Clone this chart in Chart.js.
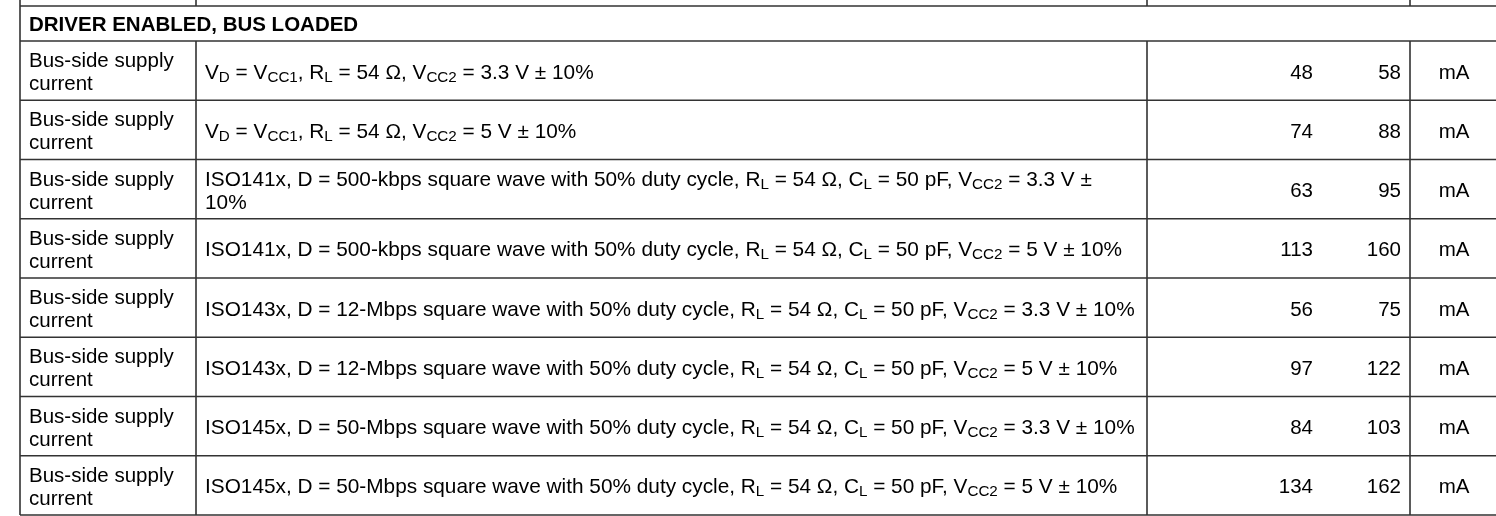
<!DOCTYPE html>
<html>
<head>
<meta charset="utf-8">
<script src="https://cdn.jsdelivr.net/npm/chart.js@4/dist/chart.umd.min.js"></script>
<style>
  html, body { margin: 0; padding: 0; background: #fff; }
  #wrap { width: 1496px; height: 516px; }
</style>
</head>
<body>
<div id="wrap"><canvas id="tbl"></canvas></div>
<script>
// table content
var sectionTitle = "DRIVER ENABLED, BUS LOADED";
var rowKeys = ["r1", "r2", "r3", "r4", "r5", "r6", "r7", "r8"];
var parameters = [
  "Bus-side supply\ncurrent", "Bus-side supply\ncurrent", "Bus-side supply\ncurrent", "Bus-side supply\ncurrent",
  "Bus-side supply\ncurrent", "Bus-side supply\ncurrent", "Bus-side supply\ncurrent", "Bus-side supply\ncurrent"
];
// _{..} = subscript, \n = line break
var conditions = [
  "V_{D} = V_{CC1}, R_{L} = 54 \u03A9, V_{CC2} = 3.3 V \u00B1 10%",
  "V_{D} = V_{CC1}, R_{L} = 54 \u03A9, V_{CC2} = 5 V \u00B1 10%",
  "ISO141x, D = 500-kbps square wave with 50% duty cycle, R_{L} = 54 \u03A9, C_{L} = 50 pF, V_{CC2} = 3.3 V \u00B1\n10%",
  "ISO141x, D = 500-kbps square wave with 50% duty cycle, R_{L} = 54 \u03A9, C_{L} = 50 pF, V_{CC2} = 5 V \u00B1 10%",
  "ISO143x, D = 12-Mbps square wave with 50% duty cycle, R_{L} = 54 \u03A9, C_{L} = 50 pF, V_{CC2} = 3.3 V \u00B1 10%",
  "ISO143x, D = 12-Mbps square wave with 50% duty cycle, R_{L} = 54 \u03A9, C_{L} = 50 pF, V_{CC2} = 5 V \u00B1 10%",
  "ISO145x, D = 50-Mbps square wave with 50% duty cycle, R_{L} = 54 \u03A9, C_{L} = 50 pF, V_{CC2} = 3.3 V \u00B1 10%",
  "ISO145x, D = 50-Mbps square wave with 50% duty cycle, R_{L} = 54 \u03A9, C_{L} = 50 pF, V_{CC2} = 5 V \u00B1 10%"
];
var typValues = [48, 74, 63, 113, 56, 97, 84, 134];
var maxValues = [58, 88, 95, 160, 75, 122, 103, 162];
var units = ["mA", "mA", "mA", "mA", "mA", "mA", "mA", "mA"];

// layout (pixels)
var W = 1496, H = 516;
var colX = [20, 196, 1147, 1410];   // vertical rules
var typRight = 1313, maxRight = 1401, unitMid = 1454;
var topRule = 6, headBottom = 41;
var FONT = "'Liberation Sans', Arial, sans-serif";
var SIZE = 20.5, COND = 20.8, SUB = 15.2;
var lineCol = "#333";

function drawRich(ctx, x, y, str, size) {
  var parts = str.split(/(_\{[^}]*\})/);
  parts.forEach(function(p) {
    if (!p) return;
    if (p.charAt(0) == "_" && p.charAt(1) == "{") {
      var t = p.slice(2, -1);
      ctx.font = SUB + "px " + FONT;
      ctx.fillText(t, x, y + 3);
      x += ctx.measureText(t).width;
    } else {
      ctx.font = size + "px " + FONT;
      ctx.fillText(p, x, y);
      x += ctx.measureText(p).width;
    }
  });
}

function drawLines(ctx, x, mid, str, size) {
  var lines = str.split("\n");
  if (lines.length == 1) { drawRich(ctx, x, mid + 8, lines[0], size); return; }
  drawRich(ctx, x, mid - 3.5, lines[0], size);
  drawRich(ctx, x, mid + 19.5, lines[1], size);
}

var tablePlugin = {
  id: "tablePlugin",
  beforeDraw: function(chart) {
    var ctx = chart.ctx;
    ctx.save();
    ctx.fillStyle = "#fff";
    ctx.fillRect(0, 0, chart.width, chart.height);
    ctx.restore();
  },
  afterDatasetsDraw: function(chart) {
    var ctx = chart.ctx, ys = chart.scales.y;
    var step = ys.getPixelForValue(1) - ys.getPixelForValue(0);
    ctx.save();
    ctx.strokeStyle = lineCol;
    ctx.lineWidth = 1.6;
    ctx.beginPath();
    // stub of the row above
    colX.forEach(function(cx) { ctx.moveTo(cx, 0); ctx.lineTo(cx, topRule); });
    ctx.moveTo(colX[0], topRule); ctx.lineTo(W, topRule);
    ctx.moveTo(colX[0], topRule); ctx.lineTo(colX[0], headBottom);
    ctx.moveTo(colX[0], headBottom); ctx.lineTo(W, headBottom);
    rowKeys.forEach(function(k, i) {
      var mid = ys.getPixelForValue(i);
      var top = mid - step / 2, bot = mid + step / 2;
      colX.forEach(function(cx) { ctx.moveTo(cx, top); ctx.lineTo(cx, bot); });
      ctx.moveTo(colX[0], bot); ctx.lineTo(W, bot);
    });
    ctx.stroke();

    ctx.fillStyle = "#000";
    ctx.textBaseline = "alphabetic";
    ctx.textAlign = "left";
    ctx.font = "bold " + SIZE + "px " + FONT;
    ctx.fillText(sectionTitle, 29, (topRule + headBottom) / 2 + 7.5);

    rowKeys.forEach(function(k, i) {
      var mid = ys.getPixelForValue(i);
      ctx.textAlign = "left";
      drawLines(ctx, 29, mid, parameters[i], SIZE);
      drawLines(ctx, 205, mid, conditions[i], COND);
    });

    // numbers come from the dataset points
    ctx.font = SIZE + "px " + FONT;
    chart.data.datasets.forEach(function(ds, di) {
      var meta = chart.getDatasetMeta(di);
      ctx.textAlign = ds.align;
      meta.data.forEach(function(pt, i) {
        ctx.fillText(ds.texts[i], pt.x, pt.y + 8);
      });
    });
    ctx.restore();
  }
};

new Chart(document.getElementById("tbl"), {
  type: "scatter",
  data: {
    datasets: [
      { label: "TYP", align: "right", texts: typValues.map(String),
        data: typValues.map(function(v, i) { return { x: typRight, y: rowKeys[i] }; }) },
      { label: "MAX", align: "right", texts: maxValues.map(String),
        data: maxValues.map(function(v, i) { return { x: maxRight, y: rowKeys[i] }; }) },
      { label: "UNIT", align: "center", texts: units,
        data: units.map(function(v, i) { return { x: unitMid, y: rowKeys[i] }; }) }
    ]
  },
  options: {
    responsive: true,
    maintainAspectRatio: false,
    animation: false,
    layout: { padding: { top: headBottom, bottom: 1, left: 0, right: 0 } },
    elements: { point: { radius: 0, hoverRadius: 0 } },
    plugins: { legend: { display: false }, tooltip: { enabled: false } },
    scales: {
      x: { type: "linear", min: 0, max: W, display: false },
      y: { type: "category", labels: rowKeys, offset: true, display: false }
    }
  },
  plugins: [tablePlugin]
});
</script>
</body>
</html>
